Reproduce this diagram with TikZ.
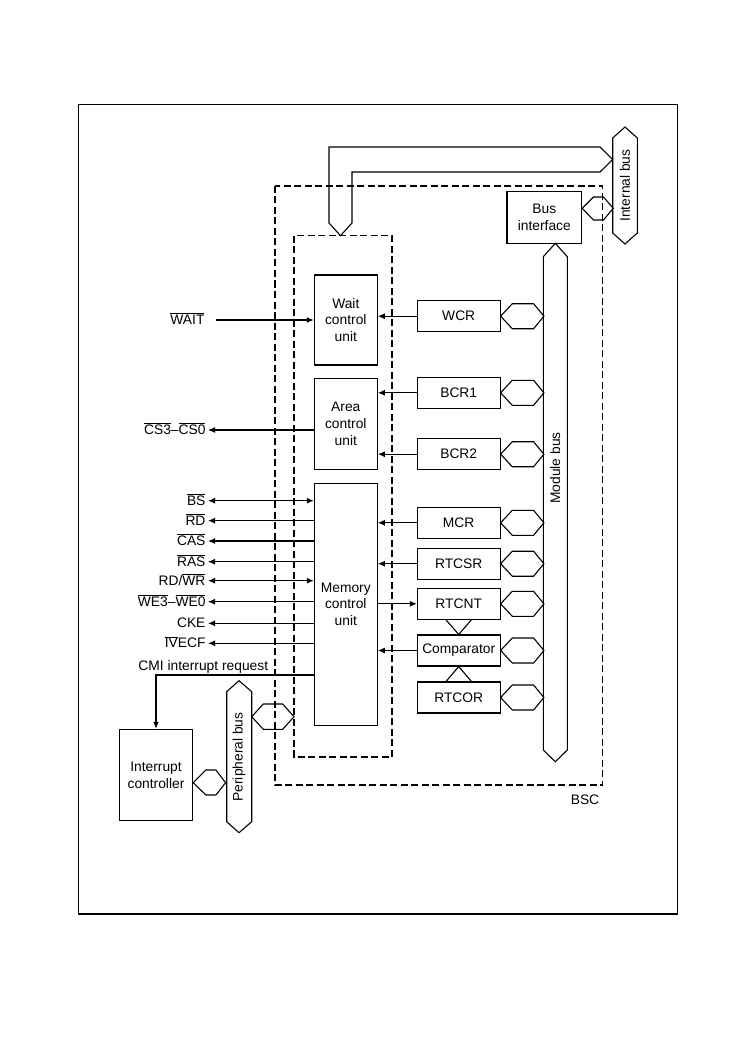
\documentclass[tikz,border=0pt]{standalone}
\usepackage{fontspec}
\setmainfont{Liberation Sans}
\usetikzlibrary{arrows.meta}
\newcommand{\ovl}[1]{$\overline{\mbox{#1}}$}

\begin{document}
\begin{tikzpicture}[x=1pt,y=-1pt,line width=1.1pt,>={Latex[length=7pt,width=6pt]},
  every node/.style={font=\fontsize{13.8}{16.7}\selectfont,inner sep=2pt},
  unit/.style={draw,align=center,minimum width=63pt},
  reg/.style={draw,minimum width=82.7pt,minimum height=31pt},
  sigl/.style={anchor=east,text height=12pt,text depth=3pt},
  dbl/.style={<->},outw/.style={<-},
  bscline/.style={dash pattern=on 7pt off 3.5pt}]
\useasboundingbox (0,0) rectangle (749,1064);
\draw[line width=1.5pt] (78.3,104.3) rectangle (677.3,914);

\draw[bscline] (275,186) rectangle (602.7,785);
\draw[bscline] (294,235.7) rectangle (392,757);
\node at (585,800) {BSC};

\node[unit,minimum height=90pt] (wcu) at (345.8,320) {Wait\\control\\unit};
\node[unit,minimum height=91pt] (acu) at (345.8,423.8) {Area\\control\\unit};
\node[unit,minimum height=241.7pt] (mcu) at (345.8,604.2) {Memory\\control\\unit};
\node[draw,align=center,minimum width=74.7pt,minimum height=51.6pt] (busif) at (544.3,217.5) {Bus\\interface};
\node[draw,align=center,minimum width=73.3pt,minimum height=91.4pt] (intc) at (156,775) {Interrupt\\controller};

\foreach \nm/\yy/\txt in {wcr/316.2/WCR,bcra/392.8/BCR1,bcrb/454.2/BCR2,mcr/522.8/MCR,
  rtcsr/563.7/RTCSR,rtcnt/603.8/RTCNT,cmp/650.5/Comparator,rtcor/697.5/RTCOR}
{
  \node[reg] (\nm) at (458.7,\yy) {\txt};
  \draw (\nm.east) -- ++(11.7,-12.5) -- ++(21.3,0) -- ++(10.3,12.5) -- ++(-10.3,12.5) -- ++(-21.3,0) -- cycle;
}

\draw[->] (wcr.west) -- (wcr.west -| wcu.east);
\draw[->] (bcra.west) -- (bcra.west -| acu.east);
\draw[->] (bcrb.west) -- (bcrb.west -| acu.east);
\draw[->] (mcr.west) -- (mcr.west -| mcu.east);
\draw[->] (rtcsr.west) -- (rtcsr.west -| mcu.east);
\draw[<-] (rtcnt.west) -- (rtcnt.west -| mcu.east);
\draw[->] (cmp.west) -- (cmp.west -| mcu.east);
\draw ([xshift=-12.7pt]rtcnt.south) -- (cmp.north) -- ([xshift=12.7pt]rtcnt.south);
\draw ([xshift=-12.7pt]rtcor.north) -- (cmp.south) -- ([xshift=12.7pt]rtcor.north);

\draw (329,223) -- (329,147) -- (600,147) -- (612.7,159.5) -- (600,172) -- (352,172) -- (352,223) -- (340.5,235.7) -- cycle;
\draw (625,127) -- (637.3,138) -- (637.3,233) -- (625,244) -- (612.7,233) -- (612.7,138) -- cycle;
\node[rotate=90] at (625,185.5) {Internal bus};
\draw (busif.east |- 0,208.3) -- ++(11.3,-11.3) -- ++(10,0) -- ++(9.7,11.3) -- ++(-9.7,11.7) -- ++(-10,0) -- cycle;

\draw (555.3,243.3) -- (567.3,256.7) -- (567.3,750) -- (555.3,761.7) -- (543.3,750) -- (543.3,256.7) -- cycle;
\node[rotate=90] at (555.3,468) {Module bus};

\draw (239,680.7) -- (251.7,691.7) -- (251.7,821.7) -- (239,832.7) -- (226.7,821.7) -- (226.7,691.7) -- cycle;
\node[rotate=90] at (239,757) {Peripheral bus};
\draw (intc.east |- 0,782.7) -- ++(12.7,-12.7) -- ++(10,0) -- ++(9.7,12.7) -- ++(-9.7,12.3) -- ++(-10,0) -- cycle;
\draw (251.7,716.7) -- ++(11.6,-12.7) -- ++(19.4,0) -- ++(11.3,12.7) -- ++(-11.3,12.6) -- ++(-19.4,0) -- cycle;

\node[sigl] (wait) at (207,320) {\ovl{WAIT}};
\draw[->] ([xshift=9pt]wait.east) -- (wcu.west);
\node[sigl] (cs) at (208,430) {\ovl{CS3}--\ovl{CS0}};
\draw[->] (cs.east -| acu.west) -- (cs.east);

\foreach \nm/\yy/\tip/\txt in {bs/500.7/dbl/\ovl{BS},rd/520.7/outw/\ovl{RD},cas/541/outw/\ovl{CAS},
  ras/561.7/outw/\ovl{RAS},rdwr/580.7/dbl/{RD/\ovl{WR}},we/601.7/outw/{\ovl{WE3}--\ovl{WE0}},
  cke/623.3/outw/CKE,ivecf/643.3/outw/{\ovl{IV}ECF}}
{
  \node[sigl] (\nm) at (208,\yy) {\txt};
  \draw[\tip] (\nm.east) -- (\nm.east -| mcu.west);
}

\node (cmi) at (203.3,666.5) {CMI interrupt request};
\draw[->] (mcu.west |- 0,675) -| (intc.north);
\end{tikzpicture}
\end{document}
